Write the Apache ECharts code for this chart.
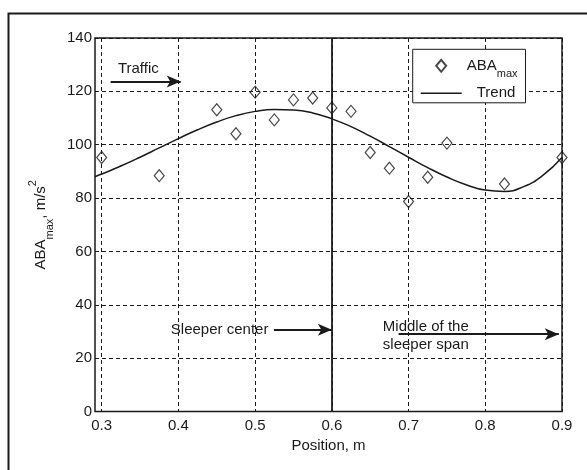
<!DOCTYPE html>
<html>
<head>
<meta charset="utf-8">
<script src="https://cdn.jsdelivr.net/npm/echarts@6/dist/echarts.min.js"></script>
<style>
html, body { margin: 0; padding: 0; background: #fff; }
#chart { width: 587px; height: 470px; }
</style>
</head>
<body>
<div id="chart"></div>
<script>
// measured ABA max values
var positions = [0.3, 0.375, 0.45, 0.475, 0.5, 0.525, 0.55, 0.575, 0.6, 0.625, 0.65, 0.675, 0.7, 0.725, 0.75, 0.825, 0.9];
var abaMax = [95.2, 88.4, 113.1, 104.1, 119.7, 109.3, 116.8, 117.5, 113.8, 112.5, 97.1, 91.2, 78.7, 87.8, 100.6, 85.3, 95.2];

// trend curve
var trendX = [0.2913, 0.3, 0.325, 0.35, 0.375, 0.4, 0.425, 0.45, 0.475, 0.5, 0.525, 0.55, 0.575, 0.6, 0.625, 0.65, 0.675, 0.7, 0.725, 0.75, 0.775, 0.8, 0.825, 0.85, 0.875, 0.9];
var trendY = [88.0, 89.0, 92.0, 95.3, 98.8, 102.3, 105.6, 108.5, 110.9, 112.5, 113.2, 113.0, 111.9, 109.7, 106.8, 103.2, 99.3, 95.3, 91.4, 87.9, 85.0, 83.0, 82.5, 84.3, 88.5, 95.2];

var xTicks = [0.3, 0.4, 0.5, 0.6, 0.7, 0.8, 0.9];
var xMin = 0.2913;

var font = 'Liberation Sans, Arial, sans-serif';
var ink = '#1a1a1a';

var myChart = echarts.init(document.getElementById('chart'));

var option = {
    animation: false,
    backgroundColor: '#fff',
    textStyle: { fontFamily: font, color: ink },
    graphic: [
        {
            type: 'rect',
            left: 6, top: 11,
            shape: { width: 640, height: 520 },
            style: { fill: 'none', stroke: ink, lineWidth: 2 },
            silent: true
        }
    ],
    grid: {
        left: 95, right: 25, top: 38, bottom: 58.5,
        show: true,
        borderColor: ink,
        borderWidth: 1.5,
        backgroundColor: 'transparent'
    },
    legend: {
        orient: 'vertical',
        left: 412.7, top: 49.3,
        backgroundColor: '#fff',
        borderColor: ink,
        borderWidth: 1,
        padding: [9, 8, 2, 8],
        itemGap: 6,
        itemWidth: 41,
        itemHeight: 12,
        selectedMode: false,
        data: [
            { name: 'ABAmax', icon: 'path://M5,0L10,6L5,12L0,6Z' },
            { name: 'Trend', icon: 'path://M0,5.2L41,5.2L41,6.8L0,6.8Z', itemStyle: { color: ink, borderWidth: 0 } }
        ],
        formatter: function (name) {
            if (name === 'ABAmax') return '{a|ABA}{s|max}';
            return '{t|Trend}';
        },
        textStyle: {
            fontFamily: font, color: ink, fontSize: 15,
            rich: {
                a: { fontSize: 15, fontFamily: font, color: ink },
                s: { fontSize: 11, fontFamily: font, color: ink, padding: [17, 0, 0, 0] },
                t: { fontSize: 15, fontFamily: font, color: ink, padding: [0, 0, 0, 10] }
            }
        }
    },
    xAxis: {
        type: 'value',
        min: xMin,
        max: 0.9,
        name: 'Position, m',
        nameLocation: 'middle',
        nameGap: 26,
        nameTextStyle: { fontSize: 15, fontFamily: font, color: ink },
        axisLine: { show: false },
        axisTick: { show: false, customValues: xTicks },
        axisLabel: { customValues: xTicks, fontSize: 15, fontFamily: font, color: ink, margin: 7,
            formatter: function (v) { return v.toFixed(1); } },
        splitLine: { show: true, customValues: xTicks, lineStyle: { color: ink, type: [4, 3], width: 1 } }
    },
    yAxis: {
        type: 'value',
        min: 0, max: 140, interval: 20,
        name: '{a|ABA}{s|max}{a|, m/s}{p|2}',
        nameLocation: 'middle',
        nameGap: 40,
        nameTextStyle: {
            fontSize: 15, fontFamily: font, color: ink,
            rich: {
                a: { fontSize: 15, fontFamily: font, color: ink },
                s: { fontSize: 11, fontFamily: font, color: ink, padding: [17, 0, 0, 0] },
                p: { fontSize: 11, fontFamily: font, color: ink, padding: [0, 0, 16, 0] }
            }
        },
        axisLine: { show: false },
        axisTick: { show: false },
        axisLabel: { fontSize: 15, fontFamily: font, color: ink, margin: 3 },
        splitLine: { show: true, lineStyle: { color: ink, type: [4, 3], width: 1 } }
    },
    series: [
        {
            name: 'Trend',
            type: 'line',
            smooth: true,
            symbol: 'none',
            lineStyle: { color: ink, width: 1.5 },
            itemStyle: { color: ink },
            data: trendX.map(function (x, i) { return [x, trendY[i]]; }),
            markLine: {
                silent: true,
                symbol: ['none', 'none'],
                label: { show: false },
                lineStyle: { color: ink, type: 'solid', width: 1.8 },
                data: [
                    { xAxis: 0.6 },
                    [{ coord: [0.3117, 123.7], symbol: 'none' }, { coord: [0.403, 123.7], symbol: 'arrow', symbolSize: [9, 14] }],
                    [{ coord: [0.5245, 30.6], symbol: 'none' }, { coord: [0.6, 30.6], symbol: 'arrow', symbolSize: [9, 14] }],
                    [{ coord: [0.687, 29], symbol: 'none' }, { coord: [0.8958, 29], symbol: 'arrow', symbolSize: [9, 14] }]
                ]
            },
            markPoint: {
                silent: true,
                symbol: 'circle',
                symbolSize: 1,
                itemStyle: { color: 'rgba(0,0,0,0)' },
                label: { show: true, position: 'inside', fontSize: 15, fontFamily: font, color: ink },
                data: [
                    { coord: [0.3478, 128.5], value: 'Traffic',
                      label: { formatter: 'Traffic', align: 'center', verticalAlign: 'middle' } },
                    { coord: [0.5173, 30.6], value: 'Sleeper center',
                      label: { formatter: 'Sleeper center', align: 'right', verticalAlign: 'middle' } },
                    { coord: [0.6665, 28.4], value: 'Middle',
                      label: { formatter: 'Middle of the\nsleeper span', align: 'left', verticalAlign: 'middle', lineHeight: 18 } }
                ]
            }
        },
        {
            name: 'ABAmax',
            type: 'scatter',
            symbol: 'diamond',
            symbolSize: [10, 12],
            itemStyle: { color: 'rgba(255,255,255,0)', borderColor: ink, borderWidth: 1.2 },
            data: positions.map(function (x, i) { return [x, abaMax[i]]; }),
            z: 5
        }
    ]
};

myChart.setOption(option);
</script>
</body>
</html>
